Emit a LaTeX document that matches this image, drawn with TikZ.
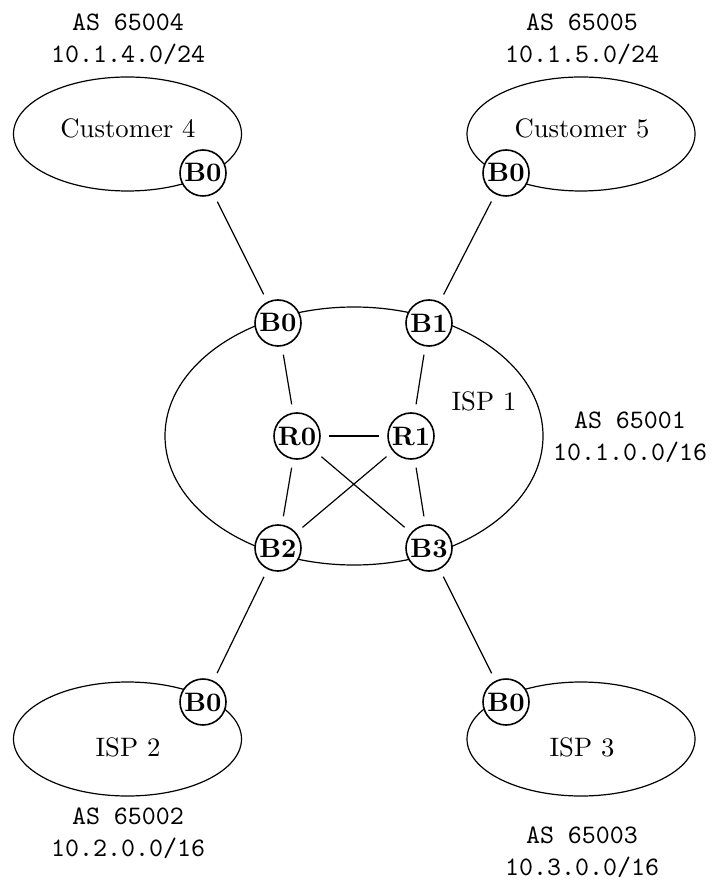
\documentclass[tikz,border=0pt]{standalone}
\usetikzlibrary{shapes.geometric}
\begin{document}
\begin{tikzpicture}[x=0.375pt,y=-0.375pt]
\tikzset{
  router/.style={circle, draw, fill=white, line width=0.6pt, minimum size=17.25pt,
                 inner sep=0pt, outer sep=3.4pt, font=\bfseries},
  asregion/.style={ellipse, draw, line width=0.45pt, inner sep=0pt, outer sep=0pt},
  smallregion/.style={asregion, minimum width=85.5pt, minimum height=42.75pt},
  asinfo/.style={font=\ttfamily, align=center, inner sep=0pt},
  link/.style={line width=0.45pt},
}
\useasboundingbox (0,0) rectangle (711,882);

% autonomous systems
\node[smallregion] (cust4) at (127.5,134) {};
\node[smallregion] (cust5) at (581,134) {};
\node[asregion, minimum width=141.75pt, minimum height=96.75pt] (isp1) at (354,436) {};
\node[smallregion] (isp2) at (127.5,739) {};
\node[smallregion] (isp3) at (581,739) {};

% domain names
\node (cust4name) at (128,128) {Customer 4};
\node (cust5name) at (582,128) {Customer 5};
\node (isp1name) at (484,401) {ISP 1};
\node (isp2name) at (128,747) {ISP 2};
\node (isp3name) at (582,747) {ISP 3};

% AS numbers and prefixes
\node[asinfo] (as4) at (128,39) {AS 65004\\10.1.4.0/24};
\node[asinfo] (as5) at (582,39) {AS 65005\\10.1.5.0/24};
\node[asinfo] (as1) at (630,437) {AS 65001\\10.1.0.0/16};
\node[asinfo] (as2) at (128,833) {AS 65002\\10.2.0.0/16};
\node[asinfo] (as3) at (582,852) {AS 65003\\10.3.0.0/16};

% routers
\node[router] (c4b0) at (203,173) {B0};
\node[router] (c5b0) at (506,173) {B0};
\node[router] (b0) at (278,323) {B0};
\node[router] (b1) at (429,323) {B1};
\node[router] (r0) at (297,436) {R0};
\node[router] (r1) at (411,436) {R1};
\node[router] (b2) at (278,548) {B2};
\node[router] (b3) at (429,548) {B3};
\node[router] (i2b0) at (203,702) {B0};
\node[router] (i3b0) at (506,702) {B0};

% external links
\draw[link] (c4b0) -- (b0);
\draw[link] (c5b0) -- (b1);
\draw[link] (b2) -- (i2b0);
\draw[link] (b3) -- (i3b0);

% internal links
\draw[link] (b0) -- (r0);
\draw[link] (b1) -- (r1);
\draw[link] (r0) -- (r1);
\draw[link] (r0) -- (b2);
\draw[link] (r0) -- (b3);
\draw[link] (r1) -- (b2);
\draw[link] (r1) -- (b3);
\end{tikzpicture}
\end{document}
